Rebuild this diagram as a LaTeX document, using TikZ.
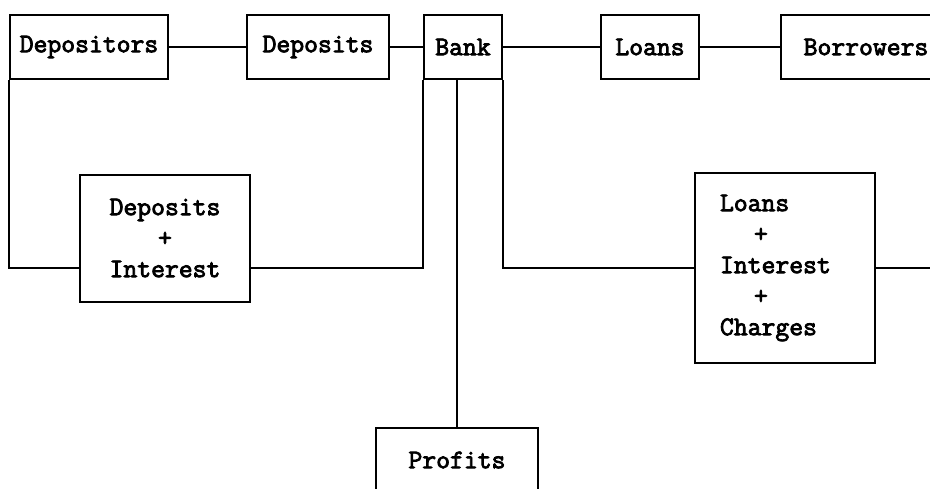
\documentclass[tikz,border=0pt]{standalone}
\usepackage{fontspec}
\newfontfamily\boxfont{Latin Modern Mono}[FakeBold=3]
\usepackage{tikz}
\usetikzlibrary{positioning}

\begin{document}
\begin{tikzpicture}[
    x=1pt, y=-1pt,
    box/.style={draw, line width=2pt, minimum height=64pt, inner sep=0pt,
                font=\boxfont\fontsize{26.9}{31}\selectfont, align=center},
    link/.style={line width=2pt}]

  \clip (0,0) rectangle (930,488);

  % === Top row ===
  \node[box, minimum width=158pt] (depositors) at (89,47) {Depositors};
  \node[box, minimum width=142pt, right=77pt of depositors] (deposits) {Deposits};
  \node[box, minimum width=78pt, right=33pt of deposits] (bank) {Bank};
  \node[box, minimum width=98pt, right=97pt of bank] (loans) {Loans};
  \node[box, minimum width=170pt, right=80pt of loans] (borrowers) {Borrowers};

  % === Lower boxes ===
  \node[box, minimum width=170pt, minimum height=127pt] (depint) at (165,238)
    {Deposits\\+\\Interest};
  \node[box, minimum width=180pt, minimum height=190pt, text width=130pt, align=left]
    (loanint) at (785,268)
    {Loans\\\hspace*{34pt}+\\Interest\\\hspace*{34pt}+\\Charges};
  \node[box, minimum width=162pt] (profits) at (457,460) {Profits};

  \coordinate (edge) at (935,268);

  % === Top row links ===
  \draw[link] (depositors) -- (deposits);
  \draw[link] (deposits) -- (bank);
  \draw[link] (bank) -- (loans);
  \draw[link] (loans) -- (borrowers);

  % === Return loops ===
  \draw[link] (depositors.south west) |- (depint.west |- loanint.west);
  \draw[link] (depint.east |- loanint.west) -| (bank.south west);
  \draw[link] (bank.south east) |- (loanint.west);
  \draw[link] (loanint.east) -- (edge);

  % Profits drop
  \draw[link] (profits.north |- bank.south) -- (profits.north);

\end{tikzpicture}
\end{document}
